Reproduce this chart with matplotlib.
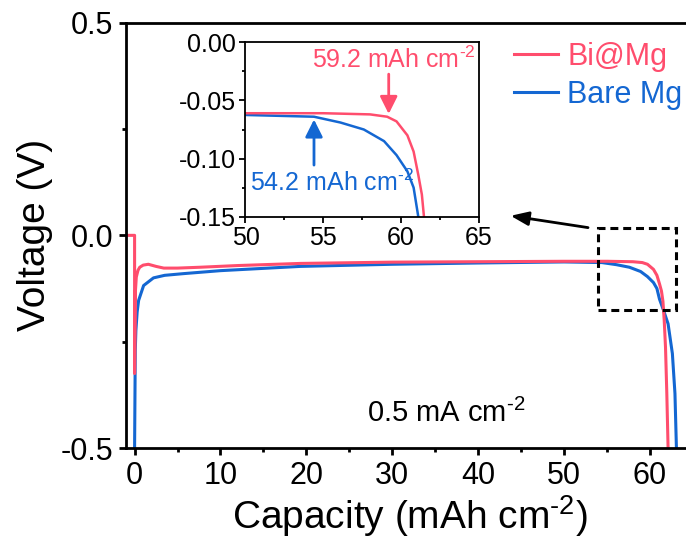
import matplotlib
matplotlib.use("Agg")
import matplotlib.pyplot as plt
from matplotlib.patches import Rectangle
from matplotlib.ticker import MultipleLocator, FormatStrFormatter

plt.rcParams["font.family"] = ["Liberation Sans", "DejaVu Sans"]
plt.rcParams["mathtext.fontset"] = "custom"
plt.rcParams["mathtext.rm"] = "Liberation Sans"
plt.rcParams["mathtext.it"] = "Liberation Sans:italic"
plt.rcParams["axes.unicode_minus"] = False

# ---------- discharge curves ----------
bi_cap = [-1, 0, 0, 0.1, 0.2, 0.4, 0.6, 1.0, 1.6, 2.5, 3.4, 5.0, 7.6, 12, 19.3,
          30, 40, 50, 55, 58, 59.1, 59.7, 60.4, 60.8, 61.1, 61.33, 61.5, 61.65,
          61.8, 61.95, 62.1]
bi_v = [0, 0, -0.325, -0.13, -0.098, -0.082, -0.075, -0.070, -0.068, -0.073,
        -0.077, -0.077, -0.075, -0.071, -0.066, -0.063, -0.062, -0.061, -0.061,
        -0.062, -0.064, -0.068, -0.080, -0.094, -0.114, -0.131, -0.155, -0.20,
        -0.263, -0.37, -0.5]

bare_cap = [0, 0.08, 0.15, 0.3, 0.47, 1.05, 2.2, 3.5, 5.7, 10, 19.3, 30, 40, 50,
            54.4, 56.1, 57.6, 58.9, 59.7, 60.4, 60.8, 61.1, 61.6, 62.1, 62.6,
            62.9, 63.07]
bare_v = [-0.5, -0.27, -0.224, -0.18, -0.153, -0.118, -0.100, -0.094, -0.090,
          -0.083, -0.073, -0.068, -0.065, -0.0625, -0.064, -0.069, -0.075,
          -0.085, -0.097, -0.111, -0.125, -0.150, -0.178, -0.208, -0.278,
          -0.372, -0.5]

labels = ["Bi@Mg", "Bare Mg"]
RED = "#FF4D6D"
BLUE = "#1467D2"

# capacity where each cell leaves the plateau
bi_mark = 59.2
bare_mark = 54.2

fig = plt.figure(figsize=(6.86, 5.44), dpi=100)
ax = fig.add_axes([0.18367, 0.17647, 0.82653, 0.78180])

l_bare, = ax.plot(bare_cap, bare_v, color=BLUE, lw=2.2)
l_bi, = ax.plot(bi_cap, bi_v, color=RED, lw=2.2)

ax.set_xlim(-1, 65)
ax.set_ylim(-0.5, 0.5)
ax.xaxis.set_major_locator(MultipleLocator(10))
ax.xaxis.set_minor_locator(MultipleLocator(5))
ax.yaxis.set_major_locator(MultipleLocator(0.5))
ax.yaxis.set_minor_locator(MultipleLocator(0.25))
ax.yaxis.set_major_formatter(FormatStrFormatter("%.1f"))
ax.tick_params(which="major", direction="out", length=5, width=2,
               labelsize=22, pad=4)
ax.tick_params(which="minor", direction="out", length=3, width=2)
for s in ax.spines.values():
    s.set_linewidth(2)

ax.set_xlabel(r"Capacity (mAh cm$^{\text{-2}}$)", fontsize=28, labelpad=2)
ax.set_ylabel("Voltage (V)", fontsize=28, labelpad=6)

ax.text(27.0, -0.44, r"0.5 mA cm$^{\text{-2}}$", fontsize=21)

# zoom box and pointer to the inset
ax.add_patch(Rectangle((53.9, -0.176), 9.17, 0.193, fill=False, ec="black",
                       lw=2.2, ls=(0, (2.6, 1.6)), zorder=5))
ax.annotate("", xy=(43.45, 0.047), xytext=(53.1, 0.0172),
            arrowprops=dict(arrowstyle="-|>,head_length=0.9,head_width=0.35",
                            color="black", lw=2, mutation_scale=12))

ax.legend([l_bi, l_bare], labels, loc="upper left", frameon=False,
          fontsize=22, labelcolor="linecolor", handlelength=1.45,
          handletextpad=0.3, labelspacing=0.25, borderpad=0,
          borderaxespad=0, bbox_to_anchor=(0.7493, 0.9228),
          bbox_transform=fig.transFigure)

# ---------- inset ----------
ins = fig.add_axes([0.35787, 0.60165, 0.34038, 0.32059])
ins.plot(bare_cap, bare_v, color=BLUE, lw=1.8)
ins.plot(bi_cap, bi_v, color=RED, lw=1.8)
ins.set_xlim(50, 65)
ins.set_ylim(-0.15, 0.0)
ins.xaxis.set_major_locator(MultipleLocator(5))
ins.xaxis.set_minor_locator(MultipleLocator(2.5))
ins.yaxis.set_major_locator(MultipleLocator(0.05))
ins.yaxis.set_minor_locator(MultipleLocator(0.025))
ins.yaxis.set_major_formatter(FormatStrFormatter("%.2f"))
ins.tick_params(which="major", direction="out", length=4, width=1.3,
                labelsize=18, pad=3)
ins.tick_params(which="minor", direction="out", length=2.5, width=1.3)
for s in ins.spines.values():
    s.set_linewidth(1.3)

ins.annotate("", xy=(bi_mark, -0.064), xytext=(bi_mark, -0.025),
             arrowprops=dict(arrowstyle="-|>,head_length=0.7,head_width=0.35",
                             color=RED, lw=2, mutation_scale=15))
ins.text(54.26, -0.0152, r"%.1f mAh cm$^{\text{-2}}$" % bi_mark, color=RED,
         fontsize=18, va="center")
ins.annotate("", xy=(bare_mark + 0.2, -0.064), xytext=(bare_mark + 0.2, -0.108),
             arrowprops=dict(arrowstyle="-|>,head_length=0.7,head_width=0.35",
                             color=BLUE, lw=2, mutation_scale=15))
ins.text(50.3, -0.121, r"%.1f mAh cm$^{\text{-2}}$" % bare_mark, color=BLUE,
         fontsize=18, va="center")

fig.savefig("out.png", dpi=100)
